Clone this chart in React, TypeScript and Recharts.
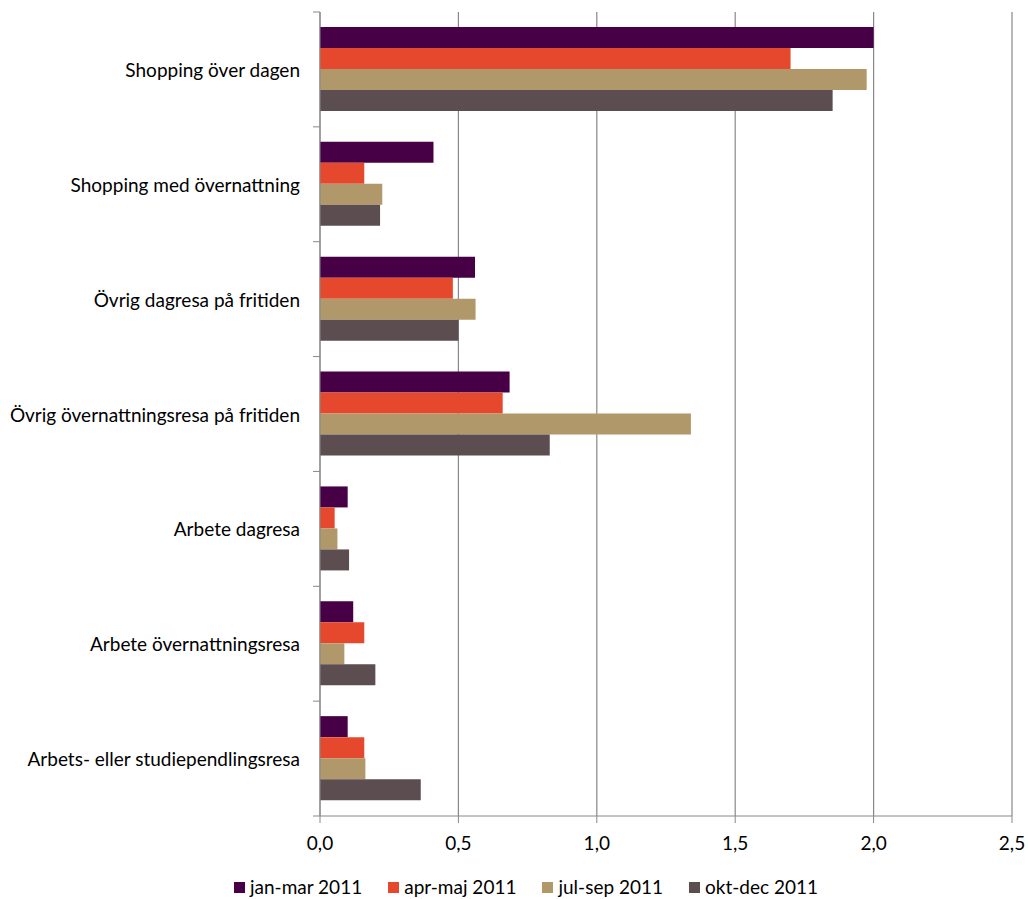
import React from "react";
import {
  BarChart,
  Bar,
  XAxis,
  YAxis,
  CartesianGrid,
  Legend,
} from "recharts";

const categories = [
  "Shopping över dagen",
  "Shopping med övernattning",
  "Övrig dagresa på fritiden",
  "Övrig övernattningsresa på fritiden",
  "Arbete dagresa",
  "Arbete övernattningsresa",
  "Arbets- eller studiependlingsresa",
];

const janMar = [2.0, 0.41, 0.56, 0.685, 0.1, 0.12, 0.1];
const aprMaj = [1.7, 0.16, 0.48, 0.66, 0.053, 0.16, 0.16];
const julSep = [1.975, 0.225, 0.562, 1.34, 0.063, 0.088, 0.164];
const oktDec = [1.852, 0.217, 0.5, 0.83, 0.105, 0.2, 0.364];

const xTicks = [0, 0.5, 1, 1.5, 2, 2.5];

const series = [
  { key: "janMar", name: "jan-mar 2011", color: "#470045", values: janMar },
  { key: "aprMaj", name: "apr-maj 2011", color: "#E5482C", values: aprMaj },
  { key: "julSep", name: "jul-sep 2011", color: "#B1986B", values: julSep },
  { key: "oktDec", name: "okt-dec 2011", color: "#5C4D51", values: oktDec },
];

const data = categories.map((name, i) => {
  const row: any = { name };
  series.forEach((s) => {
    row[s.key] = s.values[i];
  });
  return row;
});

const FONT = "Lato, 'Open Sans', sans-serif";
const AXIS = "#888888";

// category label plus tick marks on the band boundaries
const CategoryTick = (props: any) => {
  const { x, y, payload, index } = props;
  const half = payload.offset || 0;
  const axisX = x + 20;
  return (
    <g>
      <line x1={axisX - 7} x2={axisX} y1={y - half} y2={y - half} stroke={AXIS} />
      {index === categories.length - 1 && (
        <line x1={axisX - 7} x2={axisX} y1={y + half} y2={y + half} stroke={AXIS} />
      )}
      <text
        x={x}
        y={y}
        textAnchor="end"
        dominantBaseline="central"
        fontSize={19}
        fontFamily={FONT}
        fill="#000"
      >
        {payload.value}
      </text>
    </g>
  );
};

// legend in series order (recharts would sort it by name)
const LegendContent = () => (
  <div
    style={{
      display: "flex",
      justifyContent: "center",
      fontFamily: FONT,
      fontSize: 19,
      height: 24,
      lineHeight: "24px",
      paddingLeft: 40,
    }}
  >
    {series.map((s) => (
      <div key={s.key} style={{ display: "flex", alignItems: "center", margin: "0 13px" }}>
        <span
          style={{
            display: "inline-block",
            width: 11,
            height: 11,
            background: s.color,
            marginRight: 5,
          }}
        />
        <span>{s.name}</span>
      </div>
    ))}
  </div>
);

export default function App() {
  return (
    <div style={{ position: "absolute", left: 0, top: 0, background: "#fff" }}>
      <BarChart
        width={1028}
        height={899}
        data={data}
        layout="vertical"
        margin={{ top: 12, right: 16, left: 0, bottom: 0 }}
        barCategoryGap={15}
        barGap={0}
      >
        <CartesianGrid horizontal={false} stroke={AXIS} strokeWidth={1.2} />
        <XAxis
          type="number"
          domain={[0, 2.5]}
          ticks={xTicks}
          tickFormatter={(v: number) => v.toFixed(1).replace(".", ",")}
          stroke={AXIS}
          tickSize={7}
          tickMargin={14}
          height={59}
          tick={{ fill: "#000", fontSize: 19, fontFamily: FONT }}
        />
        <YAxis
          type="category"
          dataKey="name"
          width={320}
          stroke={AXIS}
          tickLine={false}
          tick={<CategoryTick />}
          tickMargin={12}
          tickSize={8}
        />
        <Legend verticalAlign="bottom" content={<LegendContent />} />
        {series.map((s) => (
          <Bar
            key={s.key}
            dataKey={s.key}
            name={s.name}
            fill={s.color}
            isAnimationActive={false}
          />
        ))}
      </BarChart>
    </div>
  );
}
